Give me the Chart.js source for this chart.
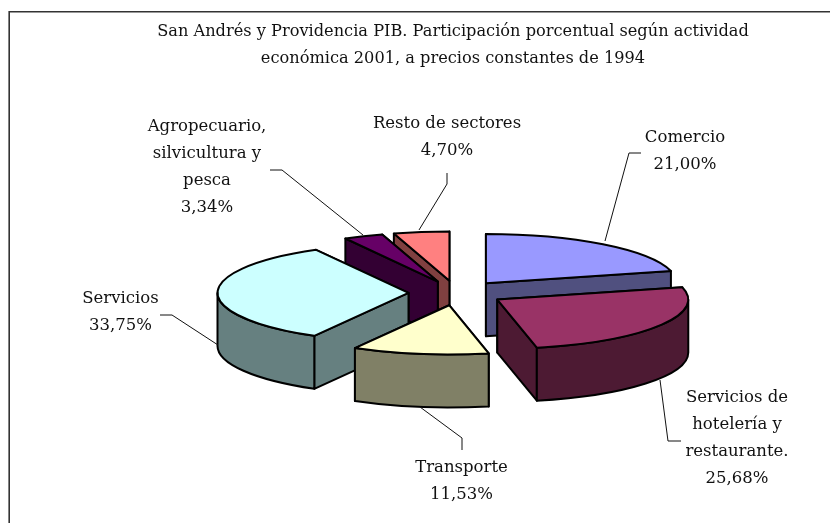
<!DOCTYPE html>
<html lang="es">
<head>
<meta charset="utf-8">
<title>San Andrés y Providencia PIB</title>
<script src="https://cdn.jsdelivr.net/npm/chart.js@4"></script>
<style>
  html, body { margin: 0; background: #fff; }
  canvas { display: block; }
</style>
</head>
<body>
<canvas id="grafique" width="830" height="523"></canvas>
<script>
const titulo = [
  "San Andrés y Providencia PIB. Participación porcentual según actividad",
  "económica 2001, a precios constantes de 1994"
];
const categorias = [
  "Comercio",
  "Servicios de hotelería y restaurante.",
  "Transporte",
  "Servicios",
  "Agropecuario, silvicultura y pesca",
  "Resto de sectores"
];
const valores = [21.00, 25.68, 11.53, 33.75, 3.34, 4.70];
const coloresTapa = ["#9999ff", "#993366", "#ffffcc", "#ccffff", "#660066", "#ff8080"];
const coloresLado = ["#50507f", "#4d1a33", "#808066", "#668080", "#330033", "#804040"];

// Orden de pintura: lo que queda delante se dibuja al final
const ordenPintura = [0, 1, 5, 4, 3, 2];

// Pastel en perspectiva
const inclinacion = 0.258;
const profundidad = 53;
const explosion = 48;
const desplazamientoX = 3.5;
const fuente = '"DejaVu Serif", serif';
const tamanoTitulo = 16.2;
const tamanoEtiqueta = 16.5;

// Etiquetas colocadas a mano, como en el original
const etiquetas = [
  { lineas: ["Comercio"], x: 685, y: 138, guia: [[641, 153], [629, 153], [605, 241]] },
  { lineas: ["Servicios de", "hotelería y", "restaurante."], x: 737, y: 398, guia: [[681, 441], [668, 441], [660, 380]] },
  { lineas: ["Transporte"], x: 461.5, y: 468, guia: [[462, 450], [462, 438], [420, 407]] },
  { lineas: ["Servicios"], x: 120.5, y: 299, guia: [[160, 315], [172, 315], [218, 345]] },
  { lineas: ["Agropecuario,", "silvicultura y", "pesca"], x: 207, y: 127, guia: [[270, 170], [282, 170], [363, 235]] },
  { lineas: ["Resto de sectores"], x: 447, y: 124, guia: [[447, 173], [447, 184], [419, 230]] }
];

function formatoPorcentaje(v) {
  return v.toFixed(2).replace(".", ",") + "%";
}

function dibujarPorcion(ctx, arco, i) {
  const { x, y, startAngle, endAngle, outerRadius } = arco.getProps(["x", "y", "startAngle", "endAngle", "outerRadius"]);
  const medio = (startAngle + endAngle) / 2;
  const cx = x + desplazamientoX + Math.cos(medio) * explosion;
  const cy = y + Math.sin(medio) * explosion * inclinacion;
  const rx = outerRadius;
  const ry = outerRadius * inclinacion;

  ctx.lineWidth = 2;
  ctx.lineJoin = "round";
  ctx.strokeStyle = "#000";
  ctx.fillStyle = coloresLado[i];

  // Caras rectas: primero la que queda atrás
  const caras = [startAngle, endAngle].sort((a, b) => Math.sin(a) - Math.sin(b));
  for (const a of caras) {
    const bx = cx + Math.cos(a) * rx;
    const by = cy + Math.sin(a) * ry;
    ctx.beginPath();
    ctx.moveTo(cx, cy);
    ctx.lineTo(bx, by);
    ctx.lineTo(bx, by + profundidad);
    ctx.lineTo(cx, cy + profundidad);
    ctx.closePath();
    ctx.fill();
    ctx.stroke();
  }

  // Pared curva, solo la mitad delantera
  const a0 = Math.max(startAngle, 0);
  const a1 = Math.min(endAngle, Math.PI);
  if (a1 > a0) {
    ctx.beginPath();
    ctx.ellipse(cx, cy, rx, ry, 0, a0, a1);
    ctx.ellipse(cx, cy + profundidad, rx, ry, 0, a1, a0, true);
    ctx.closePath();
    ctx.fill();
    ctx.stroke();
  }

  // Tapa: la dibuja el propio elemento arc, aplastado
  ctx.save();
  ctx.translate(cx, cy);
  ctx.scale(1, inclinacion);
  ctx.translate(-x, -y);
  arco.draw(ctx);
  ctx.restore();

  ctx.beginPath();
  ctx.moveTo(cx, cy);
  ctx.ellipse(cx, cy, rx, ry, 0, startAngle, endAngle);
  ctx.closePath();
  ctx.stroke();
}

const pastel3d = {
  id: "pastel3d",
  beforeDraw(chart) {
    const ctx = chart.ctx;
    ctx.save();
    ctx.fillStyle = "#fff";
    ctx.fillRect(0, 0, chart.width, chart.height);
    // Marco: solo arriba y a la izquierda, lo demás queda recortado
    ctx.strokeStyle = "#333";
    ctx.lineWidth = 1.6;
    ctx.beginPath();
    ctx.moveTo(chart.width, 11.8);
    ctx.lineTo(9.2, 11.8);
    ctx.lineTo(9.2, chart.height);
    ctx.stroke();
    ctx.restore();
  },
  beforeDatasetsDraw(chart) {
    const ctx = chart.ctx;
    const arcos = chart.getDatasetMeta(0).data;
    ctx.save();
    for (const i of ordenPintura) {
      dibujarPorcion(ctx, arcos[i], i);
    }
    ctx.restore();
    return false;
  },
  afterDraw(chart) {
    const ctx = chart.ctx;
    ctx.save();
    ctx.fillStyle = "#111";
    ctx.font = tamanoEtiqueta + "px " + fuente;
    ctx.textAlign = "center";
    ctx.textBaseline = "middle";
    etiquetas.forEach((e, i) => {
      const lineas = [...e.lineas, formatoPorcentaje(valores[i])];
      lineas.forEach((t, n) => ctx.fillText(t, e.x, e.y + n * 27));
      ctx.strokeStyle = "#111";
      ctx.lineWidth = 1;
      ctx.beginPath();
      e.guia.forEach((p, n) => n ? ctx.lineTo(p[0], p[1]) : ctx.moveTo(p[0], p[1]));
      ctx.stroke();
    });
    ctx.restore();
  }
};

new Chart(document.querySelector("#grafique"), {
  type: "pie",
  data: {
    labels: categorias,
    datasets: [{
      data: valores,
      backgroundColor: coloresTapa,
      borderWidth: 0
    }]
  },
  options: {
    responsive: false,
    animation: false,
    radius: 191,
    layout: { padding: { left: 76, right: 0, top: 0, bottom: 9 } },
    plugins: {
      legend: { display: false },
      tooltip: { enabled: false },
      title: {
        display: true,
        text: titulo,
        color: "#111",
        font: { family: fuente, size: tamanoTitulo, weight: "normal", lineHeight: 27 / tamanoTitulo },
        padding: { top: 18, bottom: 0 }
      }
    }
  },
  plugins: [pastel3d]
});
</script>
</body>
</html>
